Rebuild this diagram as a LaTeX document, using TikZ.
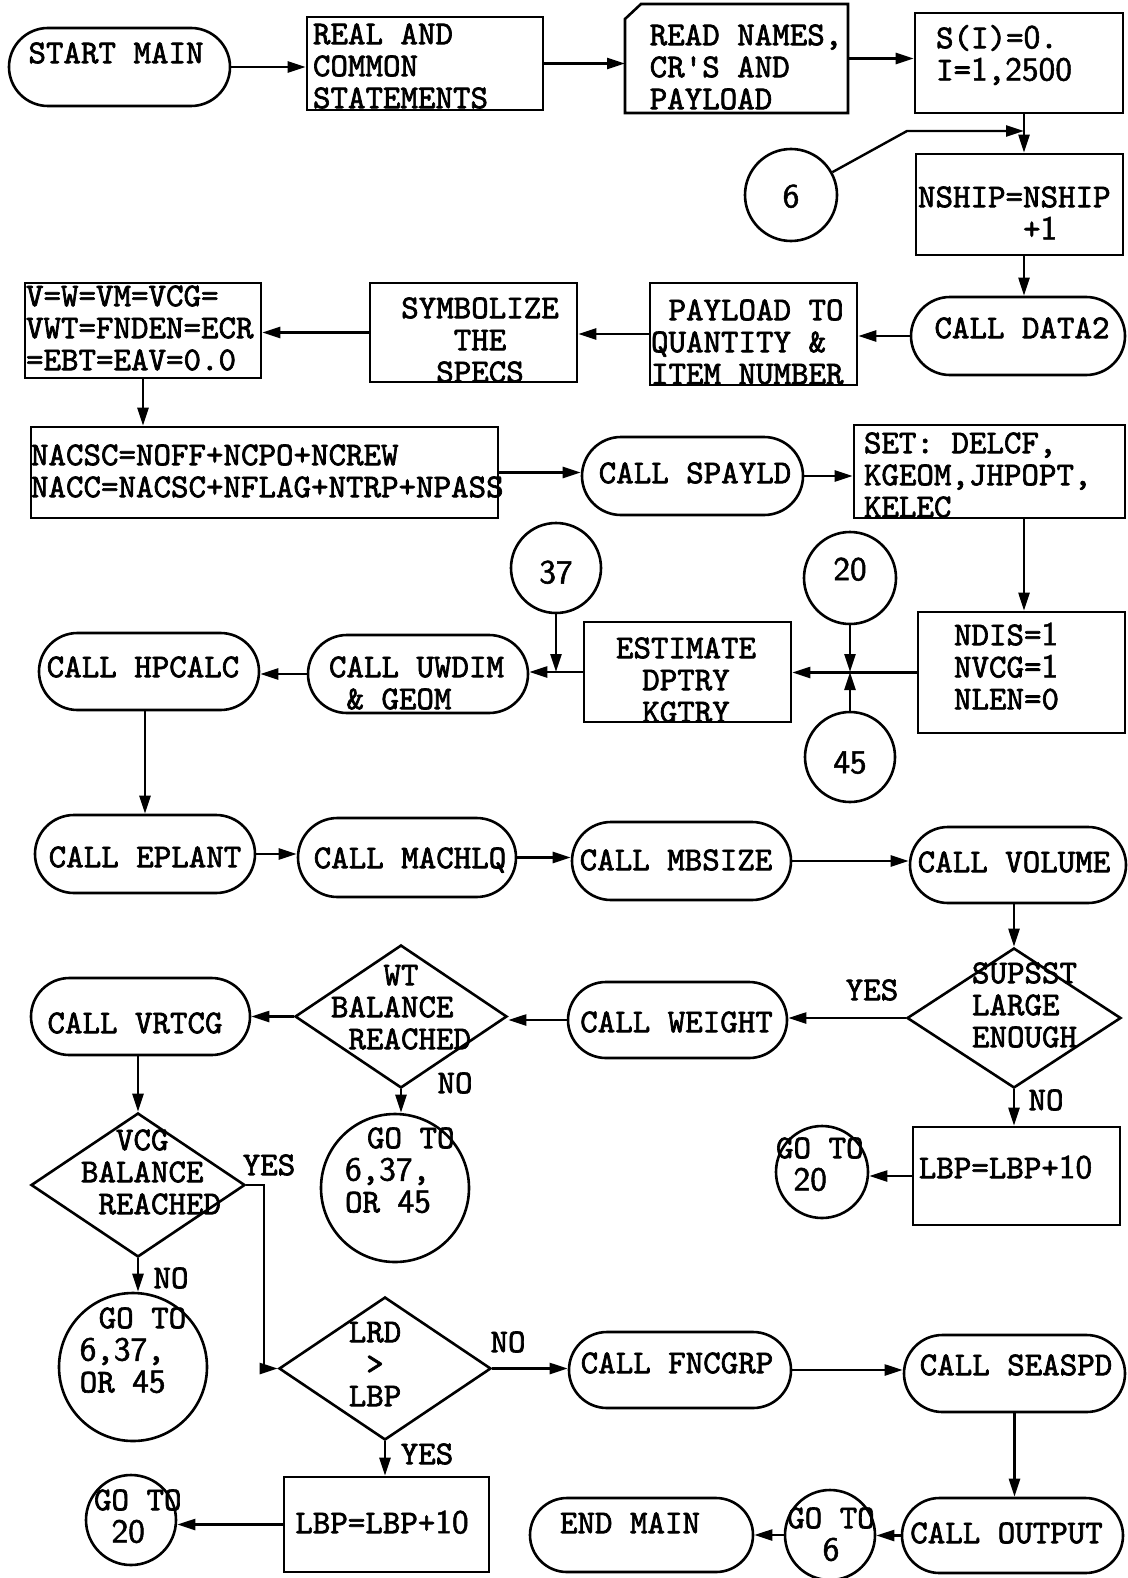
\documentclass[tikz,border=0pt]{standalone}
\usepackage{fontspec}
\usetikzlibrary{shapes.geometric,shapes.misc,arrows.meta}
\newfontfamily\tw{lmmono10-regular.otf}[FakeBold=2]
\newfontfamily\dgf{lmsans10-regular.otf}[FakeBold=1.5]
\newcommand\TX[4]{\makebox[0pt][c]{\hspace*{#1}\hspace*{#1}\raisebox{#2}[0pt][0pt]{\begin{tabular}[t]{@{}#3@{}}#4\end{tabular}}}}
\newcommand\dg[1]{{\dgf #1}}
\newcommand\hp[1]{\hphantom{#1}}
\begin{document}
\begin{tikzpicture}[x=0.5pt,y=-0.5pt,
  every node/.style={font=\fontsize{16.67}{16}\tw},
  shp/.style={draw, line width=1.3pt, inner sep=0pt},
  proc/.style={shp, rectangle},
  term/.style={shp, rounded rectangle},
  conn/.style={shp, circle},
  dec/.style={shp, diamond},
  sz/.style 2 args={minimum width=#1pt, minimum height=#2pt},
  lab/.style={inner sep=0pt},
  arr/.style={line width=1.2pt, -{Triangle[length=9pt,width=5.5pt]}}]
\fill[white] (0,0) rectangle (1128,1578);
\useasboundingbox (0,0) rectangle (1128,1578);

% row 1
\node[term, sz={110.5}{39}] (start) at (119.5,67) {\TX{-1.75pt}{1.9pt}{c}{START MAIN}};
\node[proc, sz={118}{46.5}] (real) at (425,63.5) {\TX{-12.25pt}{9.65pt}{l}{REAL AND\\COMMON\\STATEMENTS}};
\node[inner sep=0pt, outer sep=0pt, sz={111.5}{54.5}] (read) at (736.5,58.5) {\TX{4.75pt}{6.65pt}{l}{READ NAMES,\\CR'S AND\\PAYLOAD}};
\draw[line width=1.3pt] ([yshift=-7.5pt]read.north west) -- ([xshift=8pt]read.north west) -- (read.north east) -- (read.south east) -- (read.south west) -- cycle;
\node[proc, sz={104}{50}] (sinit) at (1019,63) {\TX{-7.5pt}{7.4pt}{l}{S(I)=\dg{0}.\\I=\dg{1},\dg{2500}}};
\node[conn, minimum size=46pt] (c6) at (791,195) {\TX{0pt}{-6.1pt}{c}{\dg{6}}};
\node[proc, sz={103.5}{50.5}] (nship) at (1019.5,204.5) {\TX{-2.6pt}{-1.35pt}{l}{NSHIP=NSHIP\\\hp{XXXXXX}+\dg{1}}};

% row 2
\node[term, sz={107}{39}] (data2) at (1018,336) {\TX{2pt}{-1.1pt}{c}{CALL DATA2}};
\node[proc, sz={103.5}{51}] (payload) at (753.5,334) {\TX{-3.1pt}{6.9pt}{l}{\hp{X}PAYLOAD TO\\QUANTITY \&\\ITEM NUMBER}};
\node[proc, sz={103.5}{49.5}] (symb) at (473.5,332.5) {\TX{3.25pt}{7.15pt}{c}{SYMBOLIZE\\THE\\SPECS}};
\node[proc, sz={118}{47.5}] (vinit) at (143,330.5) {\TX{-1.6pt}{12.15pt}{l}{V=W=VM=VCG=\\VWT=FNDEN=ECR\\=EBT=EAV=0.0}};

% row 3
\node[proc, sz={233.5}{45.5}] (nacsc) at (264.5,472.5) {\TX{1.4pt}{3.65pt}{l}{NACSC=NOFF+NCPO+NCREW\\NACC=NACSC+NFLAG+NTRP+NPASS}};
\node[term, sz={110.5}{39}] (spayld) at (692.5,476) {\TX{1.25pt}{-3.6pt}{c}{CALL SPAYLD}};
\node[proc, sz={135.5}{46.5}] (set) at (989.5,471.5) {\TX{-5.9pt}{9.15pt}{l}{SET: DELCF,\\KGEOM,JHPOPT,\\KELEC}};

% row 4
\node[conn, minimum size=45pt] (c37) at (556,568) {\TX{0pt}{-7.6pt}{c}{\dg{37}}};
\node[conn, minimum size=46pt] (c20) at (850,578) {\TX{0pt}{-1.1pt}{c}{\dg{20}}};
\node[proc, sz={103.5}{60.5}] (ndis) at (1021.5,672.5) {\TX{-7.5pt}{13.65pt}{l}{NDIS=\dg{1}\\NVCG=\dg{1}\\NLEN=0}};
\node[proc, sz={103.5}{50}] (est) at (687.5,672) {\TX{-0.75pt}{6.9pt}{c}{ESTIMATE\\DPTRY\\KGTRY}};
\node[conn, minimum size=45pt] (c45) at (850,757) {\TX{0pt}{-8.1pt}{c}{\dg{45}}};
\node[term, sz={110}{39}] (uwdim) at (418,674) {\TX{-0.75pt}{-1.6pt}{l}{CALL UWDIM\\\hp{X}\& GEOM}};
\node[term, sz={110}{38.5}] (hpcalc) at (149,671.5) {\TX{-3pt}{-2.85pt}{c}{CALL HPCALC}};

% row 5
\node[term, sz={110}{39}] (eplant) at (145,854) {\TX{0pt}{-6.6pt}{c}{CALL EPLANT}};
\node[term, sz={109}{39.5}] (machlq) at (407,857.5) {\TX{1.5pt}{-5.35pt}{c}{CALL MACHLQ}};
\node[term, sz={109.5}{39}] (mbsize) at (681.5,861) {\TX{-2.75pt}{-4.6pt}{c}{CALL MBSIZE}};
\node[term, sz={108}{38}] (volume) at (1018,865) {\TX{-2pt}{-3.6pt}{c}{CALL VOLUME}};

% row 6
\node[dec, sz={107}{70}] (supsst) at (1014,1018) {\TX{5.25pt}{17.4pt}{l}{SUPSST\\LARGE\\ENOUGH}};
\node[term, sz={109.5}{38}] (weight) at (677.5,1020) {\TX{-0.5pt}{-6.1pt}{c}{CALL WEIGHT}};
\node[proc, sz={103.5}{49}] (lbpa) at (1016.5,1176) {\TX{-5.5pt}{-1.1pt}{l}{LBP=LBP+\dg{10}}};
\node[conn, minimum size=46pt] (g20a) at (822,1172) {\TX{-1.1pt}{6.9pt}{l}{GO TO\\\hp{X}\dg{20}}};
\node[dec, sz={106}{71.5}] (wt) at (401,1016.5) {\TX{0pt}{15.65pt}{l}{\hp{XXX}WT\\BALANCE\\\hp{X}REACHED}};
\node[term, sz={109.5}{38.5}] (vrtcg) at (140.5,1016.5) {\TX{-2.75pt}{-8.35pt}{c}{CALL VRTCG}};
\node[conn, minimum size=74pt] (gomid) at (395,1188) {\TX{2.4pt}{19.9pt}{l}{\hspace*{11pt}GO TO\\\dg{6},\dg{37},\\OR \dg{45}}};
\node[dec, sz={107}{72}] (vcg) at (138,1185) {\TX{6.5pt}{17.4pt}{l}{\hp{XX}VCG\\BALANCE\\\hp{X}REACHED}};

% row 7
\node[conn, minimum size=74pt] (gol) at (133,1367) {\TX{0pt}{19.4pt}{l}{\hspace*{9.5pt}GO TO\\\dg{6},\dg{37},\\OR \dg{45}}};
\node[dec, sz={106}{71.5}] (lrd) at (385,1368.5) {\TX{-5pt}{13.15pt}{c}{LRD\\>\\LBP}};
\node[term, sz={111}{38}] (fncgrp) at (680,1370) {\TX{-1.5pt}{-1.6pt}{c}{CALL FNCGRP}};
\node[term, sz={110.5}{38.5}] (seaspd) at (1014.5,1373.5) {\TX{0.75pt}{-0.85pt}{c}{CALL SEASPD}};

% row 8
\node[proc, sz={102.5}{47.5}] (lbpb) at (386.5,1524.5) {\TX{-2.25pt}{-4.35pt}{c}{LBP=LBP+\dg{10}}};
\node[conn, minimum size=45pt] (g20b) at (131,1520) {\TX{3.4pt}{4.9pt}{l}{GO TO\\\hp{X}\dg{20}}};
\node[term, sz={110.5}{37.5}] (output) at (1012.5,1535.5) {\TX{-3pt}{-3.85pt}{c}{CALL OUTPUT}};
\node[conn, minimum size=45pt] (g6) at (830,1535) {\TX{0.5pt}{3.4pt}{c}{GO TO\\\dg{6}}};
\node[term, sz={111.5}{37}] (endm) at (641.5,1535) {\TX{-5.75pt}{0.9pt}{c}{END MAIN}};

% labels
\node[lab] (yesA) at (872,990) {YES};
\node[lab] (noA) at (1046,1100) {NO};
\node[lab] (noB) at (455,1083) {NO};
\node[lab] (yesB) at (269,1165) {YES};
\node[lab] (noC) at (171,1278) {NO};
\node[lab] (noD) at (508,1342) {NO};
\node[lab] (yesC) at (427,1454) {YES};

% helper coordinates
\coordinate (j) at (1024,131);
\coordinate (k6) at (907,131);
\coordinate (jj) at (850,672);
\coordinate (yv) at (264,1185);

% connectors
\draw[arr] (start.east) -- (start.east -| real.west);
\draw[arr] (real.east) -- (real.east -| read.west);
\draw[arr] (read.east) -- (read.east -| sinit.west);
\draw[arr] (sinit.south -| j) -- (nship.north -| j);
\draw[arr] (c6) -- (k6) -- (j);
\draw[arr] (nship.south -| j) -- (data2.north -| j);
\draw[arr] (data2.west) -- (data2.west -| payload.east);
\draw[arr] (payload.west) -- (payload.west -| symb.east);
\draw[arr] (symb.west) -- (symb.west -| vinit.east);
\draw[arr] (vinit.south) -- (vinit.south |- nacsc.north);
\draw[arr] (nacsc.east) -- (nacsc.east -| spayld.west);
\draw[arr] (spayld.east) -- (spayld.east -| set.west);
\draw[arr] (set.south -| j) -- (ndis.north -| j);
\draw[arr] (ndis.west) -- (ndis.west -| est.east);
\draw[arr] (c20) -- (jj);
\draw[arr] (c45) -- (jj);
\draw[arr] (est.west) -- (est.west -| uwdim.east);
\draw[arr] (c37) -- (c37 |- est.west);
\draw[arr] (uwdim.west) -- (uwdim.west -| hpcalc.east);
\draw[arr] (eplant.north |- hpcalc.south) -- (eplant.north);
\draw[arr] (eplant.east) -- (eplant.east -| machlq.west);
\draw[arr] (machlq.east) -- (machlq.east -| mbsize.west);
\draw[arr] (mbsize.east) -- (mbsize.east -| volume.west);
\draw[arr] (supsst.north |- volume.south) -- (supsst.north);
\draw[arr] (supsst.west) -- (supsst.west -| weight.east);
\draw[arr] (supsst.south) -- (supsst.south |- lbpa.north);
\draw[arr] (lbpa.west) -- (lbpa.west -| g20a.east);
\draw[arr] (weight.west) -- (weight.west -| wt.east);
\draw[arr] (wt.west) -- (wt.west -| vrtcg.east);
\draw[arr] (wt.south) -- (wt.south |- gomid.north);
\draw[arr] (vcg.north |- vrtcg.south) -- (vcg.north);
\draw[arr] (vcg.east) -- (vcg.east -| yv) |- (lrd.west);
\draw[arr] (vcg.south) -- (vcg.south |- gol.north);
\draw[arr] (lrd.east) -- (lrd.east -| fncgrp.west);
\draw[arr] (lrd.south) -- (lrd.south |- lbpb.north);
\draw[arr] (lbpb.west) -- (lbpb.west -| g20b.east);
\draw[arr] (fncgrp.east) -- (fncgrp.east -| seaspd.west);
\draw[arr] (seaspd.south) -- (seaspd.south |- output.north);
\draw[arr] (output.west) -- (output.west -| g6.east);
\draw[arr] (g6.west) -- (g6.west -| endm.east);
\end{tikzpicture}
\end{document}
